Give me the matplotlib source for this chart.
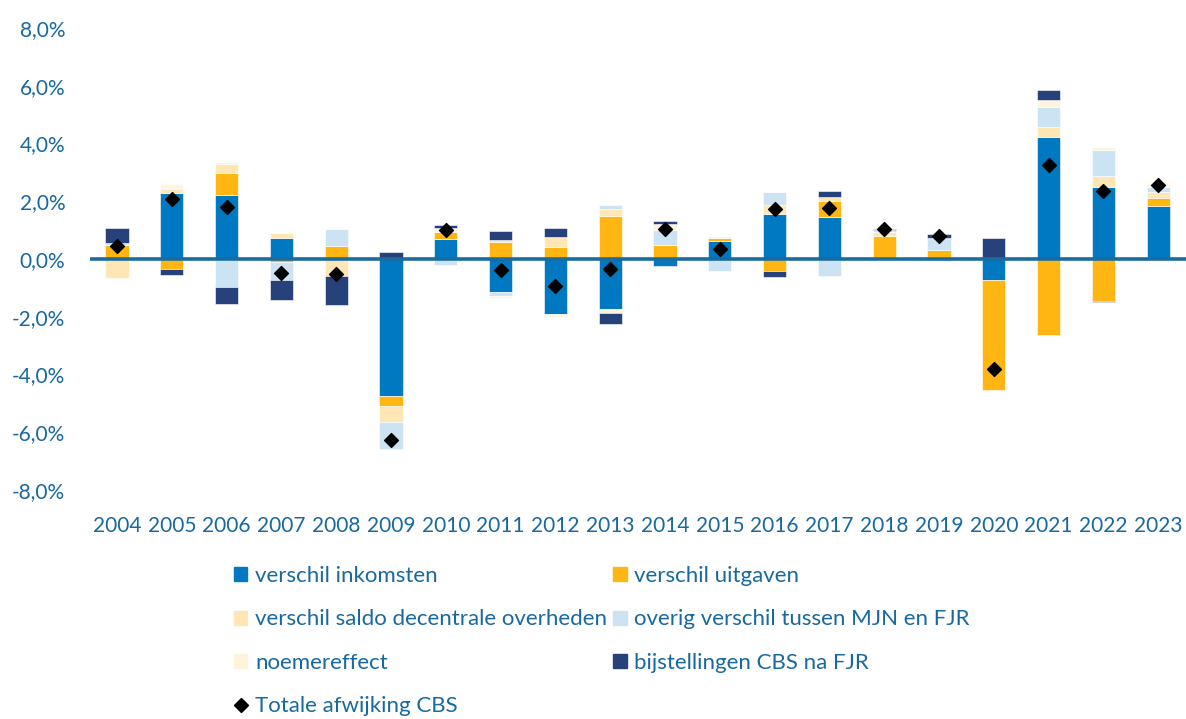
import numpy as np
import matplotlib
matplotlib.use('Agg')
import matplotlib.pyplot as plt
from matplotlib.patches import Patch
from matplotlib.lines import Line2D
from matplotlib.ticker import FuncFormatter

years = [str(y) for y in range(2004, 2024)]

# waarden in procentpunt
inkomsten = [0.00, 2.29, 2.23, 0.72, 0.00, -4.75, 0.69, -1.15, -1.90, -1.73,
             -0.25, 0.64, 1.56, 1.45, 0.00, -0.05, -0.72, 4.22, 2.49, 1.83]
uitgaven = [0.49, -0.35, 0.76, -0.12, 0.46, -0.34, 0.26, 0.58, 0.40, 1.48,
            0.50, 0.07, -0.41, 0.56, 0.78, 0.32, -3.80, -2.63, -1.47, 0.27]
saldo_dec = [-0.66, 0.14, 0.29, 0.19, -0.58, -0.56, 0.00, 0.09, 0.37, 0.25,
             0.00, 0.00, 0.32, 0.12, 0.14, 0.00, 0.00, 0.35, 0.38, 0.22]
overig = [0.08, 0.03, -0.97, -0.60, 0.59, -0.93, -0.22, -0.12, 0.00, 0.15,
          0.49, -0.43, 0.44, -0.60, 0.10, 0.42, 0.00, 0.69, 0.89, 0.17]
noemer = [0.00, 0.15, 0.08, 0.00, 0.00, 0.00, 0.11, -0.09, -0.12, -0.13,
          0.23, 0.07, 0.00, 0.03, 0.00, 0.00, 0.00, 0.23, 0.12, 0.15]
bijstelling = [0.52, -0.20, -0.58, -0.69, -1.00, 0.25, 0.11, 0.30, 0.30, -0.40,
               0.08, 0.00, -0.20, 0.21, 0.03, 0.12, 0.73, 0.38, -0.03, 0.00]
totaal = [0.44, 2.08, 1.81, -0.49, -0.52, -6.27, 0.99, -0.37, -0.93, -0.35,
          1.05, 0.36, 1.74, 1.75, 1.04, 0.78, -3.82, 3.25, 2.37, 2.58]

labels = ['verschil inkomsten', 'verschil uitgaven', 'verschil saldo decentrale overheden',
          'overig verschil tussen MJN en FJR', 'noemereffect', 'bijstellingen CBS na FJR']
colors = ['#0079C2', '#FFB612', '#FFE6B5', '#CCE3F3', '#FFF3DC', '#27417A']
series = [inkomsten, uitgaven, saldo_dec, overig, noemer, bijstelling]

txt_col = '#1769A0'
plt.rcParams['font.family'] = ['Lato', 'DejaVu Sans']

fig = plt.figure(figsize=(11.86, 7.19), dpi=100)
ax = fig.add_axes([89.6 / 1186, 1 - 490 / 719, 1096 / 1186, 462 / 719])

x = np.arange(len(years))
pos_bottom = np.zeros(len(years))
neg_bottom = np.zeros(len(years))
for vals, col in zip(series, colors):
    v = np.array(vals)
    bottom = np.where(v >= 0, pos_bottom, neg_bottom)
    ax.bar(x, v, 0.42, bottom=bottom, color=col, edgecolor='white', linewidth=0.4, zorder=2)
    pos_bottom += np.where(v >= 0, v, 0)
    neg_bottom += np.where(v < 0, v, 0)

ax.axhline(0, color='#1A6C9F', linewidth=2.6, zorder=3)
ax.scatter(x, totaal, marker='D', s=50, color='black', zorder=4)

ax.set_xlim(-0.5, len(years) - 0.5)
ax.set_ylim(-8, 8)
ax.set_yticks(np.arange(-8, 9, 2))
ax.yaxis.set_major_formatter(FuncFormatter(lambda v, p: f'{v:.1f}%'.replace('.', ',')))
ax.set_xticks(x)
ax.set_xticklabels(years)
for s in ax.spines.values():
    s.set_visible(False)
ax.tick_params(length=0, labelsize=15, labelcolor=txt_col)
ax.tick_params(axis='x', pad=19)
ax.tick_params(axis='y', pad=17.5)

handles = [Patch(color=c) for c in colors]
diamond = Line2D([], [], marker='D', color='black', linestyle='none', markersize=7)
order_h = [handles[0], handles[2], handles[4], diamond, handles[1], handles[3], handles[5]]
order_l = [labels[0], labels[2], labels[4], 'Totale afwijking CBS', labels[1], labels[3], labels[5]]
fig.legend(order_h, order_l, ncol=2, loc='upper left', bbox_to_anchor=(223 / 1186, 1 - 555 / 719),
           frameon=False, fontsize=16, labelcolor=txt_col, handlelength=0.6, handleheight=0.6,
           handletextpad=0.35, labelspacing=1.05, columnspacing=0.27, borderpad=0)

fig.savefig('out.png', dpi=100)
